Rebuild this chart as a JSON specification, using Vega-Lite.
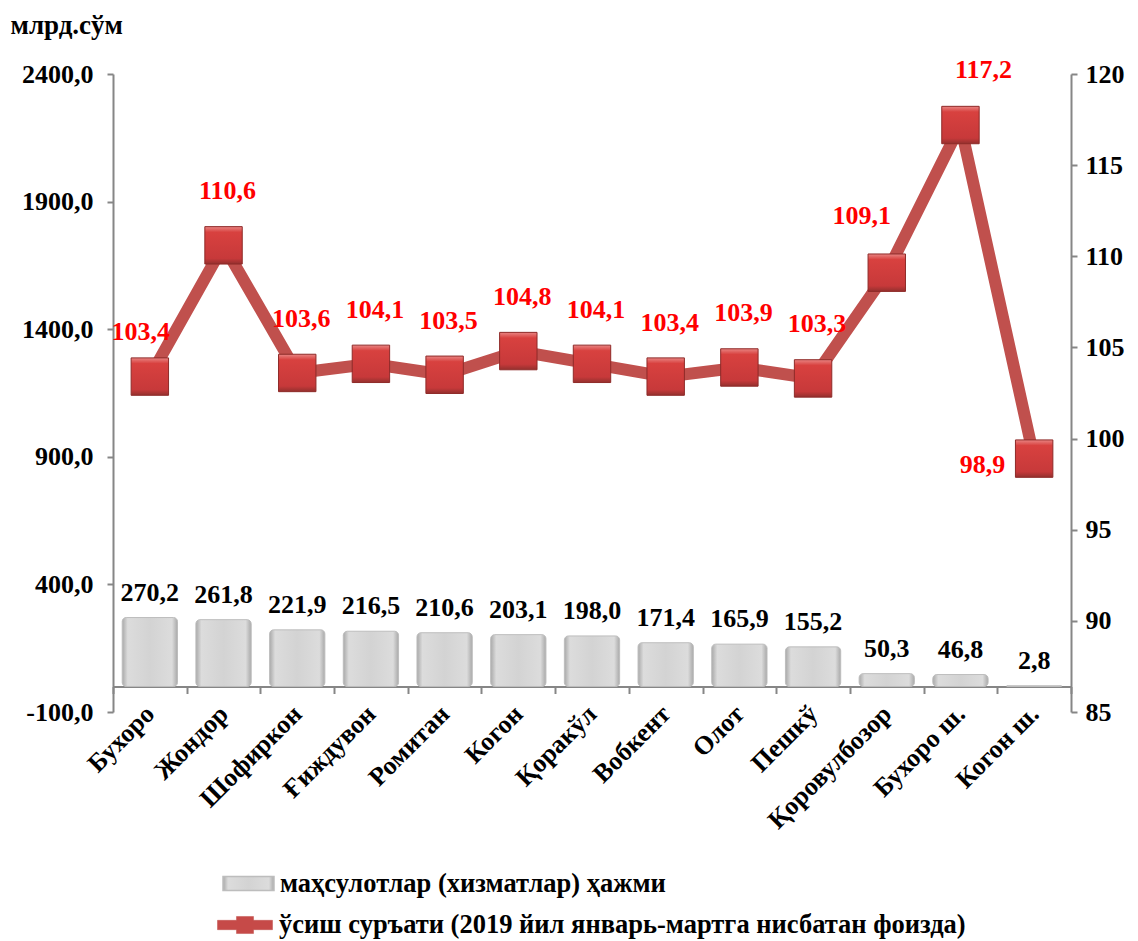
{
  "$schema": "https://vega.github.io/schema/vega-lite/v6.json",
  "autosize": "none",
  "width": 958,
  "height": 638,
  "padding": {"left": 113, "top": 74, "right": 67, "bottom": 229},
  "background": "white",
  "config": {
    "locale": {"number": {"decimal": ",", "thousands": " ", "grouping": [3], "currency": ["", ""], "minus": "-"}},
    "font": "Liberation Serif",
    "view": {"stroke": null},
    "axis": {"labelFont": "Liberation Serif", "labelFontWeight": "bold", "labelColor": "black", "titleFont": "Liberation Serif", "titleFontWeight": "bold", "titleColor": "black", "domainColor": "#868686", "domainWidth": 2, "tickColor": "#868686", "tickWidth": 2, "grid": false},
    "legend": {"labelFont": "Liberation Serif", "labelFontWeight": "bold", "labelColor": "black", "labelFontSize": 26.5, "labelLimit": 900, "padding": 0}
  },
  "data": {"values": [
    {"region": "Бухоро", "volume": 270.2, "growth": 103.4},
    {"region": "Жондор", "volume": 261.8, "growth": 110.6},
    {"region": "Шофиркон", "volume": 221.9, "growth": 103.6},
    {"region": "Ғиждувон", "volume": 216.5, "growth": 104.1},
    {"region": "Ромитан", "volume": 210.6, "growth": 103.5},
    {"region": "Когон", "volume": 203.1, "growth": 104.8},
    {"region": "Қоракўл", "volume": 198.0, "growth": 104.1},
    {"region": "Вобкент", "volume": 171.4, "growth": 103.4},
    {"region": "Олот", "volume": 165.9, "growth": 103.9},
    {"region": "Пешкў", "volume": 155.2, "growth": 103.3},
    {"region": "Қоровулбозор", "volume": 50.3, "growth": 109.1},
    {"region": "Бухоро ш.", "volume": 46.8, "growth": 117.2},
    {"region": "Когон ш.", "volume": 2.8, "growth": 98.9}
  ]},
  "encoding": {
    "x": {"field": "region", "type": "nominal", "sort": null,
      "scale": {"paddingInner": 0, "paddingOuter": 0},
      "axis": {"title": null, "offset": -25.5, "tickBand": "extent", "tickSize": 7, "labelAngle": -45, "labelFontSize": 26, "labelPadding": 16, "labelOffset": 0, "labelAlign": "right", "labelBaseline": "middle"}}
  },
  "layer": [
    {
      "encoding": {
        "y": {"field": "volume", "type": "quantitative",
          "scale": {"domain": [-100, 2400], "nice": false, "zero": false},
          "axis": {"orient": "left", "values": [-100, 400, 900, 1400, 1900, 2400], "format": ".1f", "tickSize": 6, "labelPadding": 14, "labelFontSize": 26,
            "title": "млрд.сўм", "titleAngle": 0, "titleAlign": "left", "titleBaseline": "alphabetic", "titleX": -103, "titleY": -41, "titleFontSize": 27}}
      },
      "layer": [
        {
          "mark": {"type": "bar", "width": {"band": 0.75}, "cornerRadius": 4, "stroke": "#bdbdbd", "strokeWidth": 1,
            "fill": {"gradient": "linear", "x1": 0, "y1": 0, "x2": 1, "y2": 0, "stops": [
              {"offset": 0, "color": "#a9a9a9"}, {"offset": 0.1, "color": "#dcdcdc"}, {"offset": 0.5, "color": "#d3d3d3"}, {"offset": 0.9, "color": "#dcdcdc"}, {"offset": 1, "color": "#a9a9a9"}]}},
          "encoding": {
            "y2": {"datum": 0},
            "opacity": {"datum": "маҳсулотлар (хизматлар) ҳажми", "type": "nominal", "scale": {"range": [1]},
              "legend": {"title": null, "orient": "none", "legendX": 109, "legendY": 783, "symbolType": "M-1,-0.27H1V0.27H-1Z", "symbolSize": 2601, "labelOffset": 5,
                "encode": {"symbols": {"update": {"fill": {"value": {"gradient": "linear", "x1": 0, "y1": 0, "x2": 0, "y2": 1, "stops": [{"offset": 0, "color": "#f0f0f0"}, {"offset": 0.5, "color": "#d0d0d0"}, {"offset": 1, "color": "#a0a0a0"}]}}, "stroke": {"value": "#b0b0b0"}, "strokeWidth": {"value": 1}, "opacity": {"value": 1}}}}}}
          }
        },
        {
          "mark": {"type": "text", "font": "Liberation Serif", "fontWeight": "bold", "fontSize": 26, "color": "black", "baseline": "alphabetic", "dy": -17},
          "encoding": {"text": {"field": "volume", "type": "quantitative", "format": ".1f"}}
        }
      ]
    },
    {
      "encoding": {
        "y": {"field": "growth", "type": "quantitative",
          "scale": {"domain": [85, 120], "nice": false, "zero": false},
          "axis": {"orient": "right", "values": [85, 90, 95, 100, 105, 110, 115, 120], "tickSize": 6, "labelPadding": 8, "labelFontSize": 26, "title": null}}
      },
      "layer": [
        {
          "mark": {"type": "line", "strokeWidth": 12, "strokeCap": "butt"},
          "encoding": {
            "stroke": {"datum": "ўсиш суръати (2019 йил январь-мартга нисбатан фоизда)", "type": "nominal", "scale": {"range": ["#C0504D"]},
              "legend": {"title": null, "orient": "none", "legendX": 104, "legendY": 823, "symbolType": "M-1,-0.17H-0.31V-0.31H0.31V-0.17H1V0.17H0.31V0.31H-0.31V0.17H-1Z", "symbolSize": 3025, "labelOffset": 6,
                "encode": {"symbols": {"update": {"fill": {"value": "#C64A48"}, "stroke": {"value": "#C64A48"}, "strokeWidth": {"value": 0.5}}}}}}
          }
        },
        {
          "mark": {"type": "point", "shape": "square", "size": 1400, "filled": true, "opacity": 1, "stroke": "#8e2a28", "strokeWidth": 1,
            "fill": {"gradient": "linear", "x1": 0, "y1": 0, "x2": 0, "y2": 1, "stops": [
              {"offset": 0, "color": "#e98583"}, {"offset": 0.15, "color": "#d8413f"}, {"offset": 0.85, "color": "#c7393a"}, {"offset": 1, "color": "#93302e"}]}}
        },
        {
          "transform": [{"filter": {"not": {"field": "region", "oneOf": ["Бухоро", "Қоровулбозор", "Бухоро ш.", "Когон ш."]}}}],
          "mark": {"type": "text", "font": "Liberation Serif", "fontWeight": "bold", "fontSize": 26, "color": "#FF0000", "baseline": "alphabetic", "dy": -46, "dx": 4},
          "encoding": {"text": {"field": "growth", "type": "quantitative", "format": ".1f"}}
        },
        {
          "transform": [{"filter": {"field": "region", "equal": "Бухоро"}}],
          "mark": {"type": "text", "font": "Liberation Serif", "fontWeight": "bold", "fontSize": 26, "color": "#FF0000", "baseline": "alphabetic", "dy": -37, "dx": -9},
          "encoding": {"text": {"field": "growth", "type": "quantitative", "format": ".1f"}}
        },
        {
          "transform": [{"filter": {"field": "region", "equal": "Қоровулбозор"}}],
          "mark": {"type": "text", "font": "Liberation Serif", "fontWeight": "bold", "fontSize": 26, "color": "#FF0000", "baseline": "alphabetic", "dy": -49, "dx": -25},
          "encoding": {"text": {"field": "growth", "type": "quantitative", "format": ".1f"}}
        },
        {
          "transform": [{"filter": {"field": "region", "equal": "Бухоро ш."}}],
          "mark": {"type": "text", "font": "Liberation Serif", "fontWeight": "bold", "fontSize": 26, "color": "#FF0000", "baseline": "alphabetic", "dy": -47, "dx": 23},
          "encoding": {"text": {"field": "growth", "type": "quantitative", "format": ".1f"}}
        },
        {
          "transform": [{"filter": {"field": "region", "equal": "Когон ш."}}],
          "mark": {"type": "text", "font": "Liberation Serif", "fontWeight": "bold", "fontSize": 26, "color": "#FF0000", "baseline": "alphabetic", "align": "right", "dy": 14, "dx": -29},
          "encoding": {"text": {"field": "growth", "type": "quantitative", "format": ".1f"}}
        }
      ]
    }
  ],
  "resolve": {"scale": {"y": "independent"}}
}
